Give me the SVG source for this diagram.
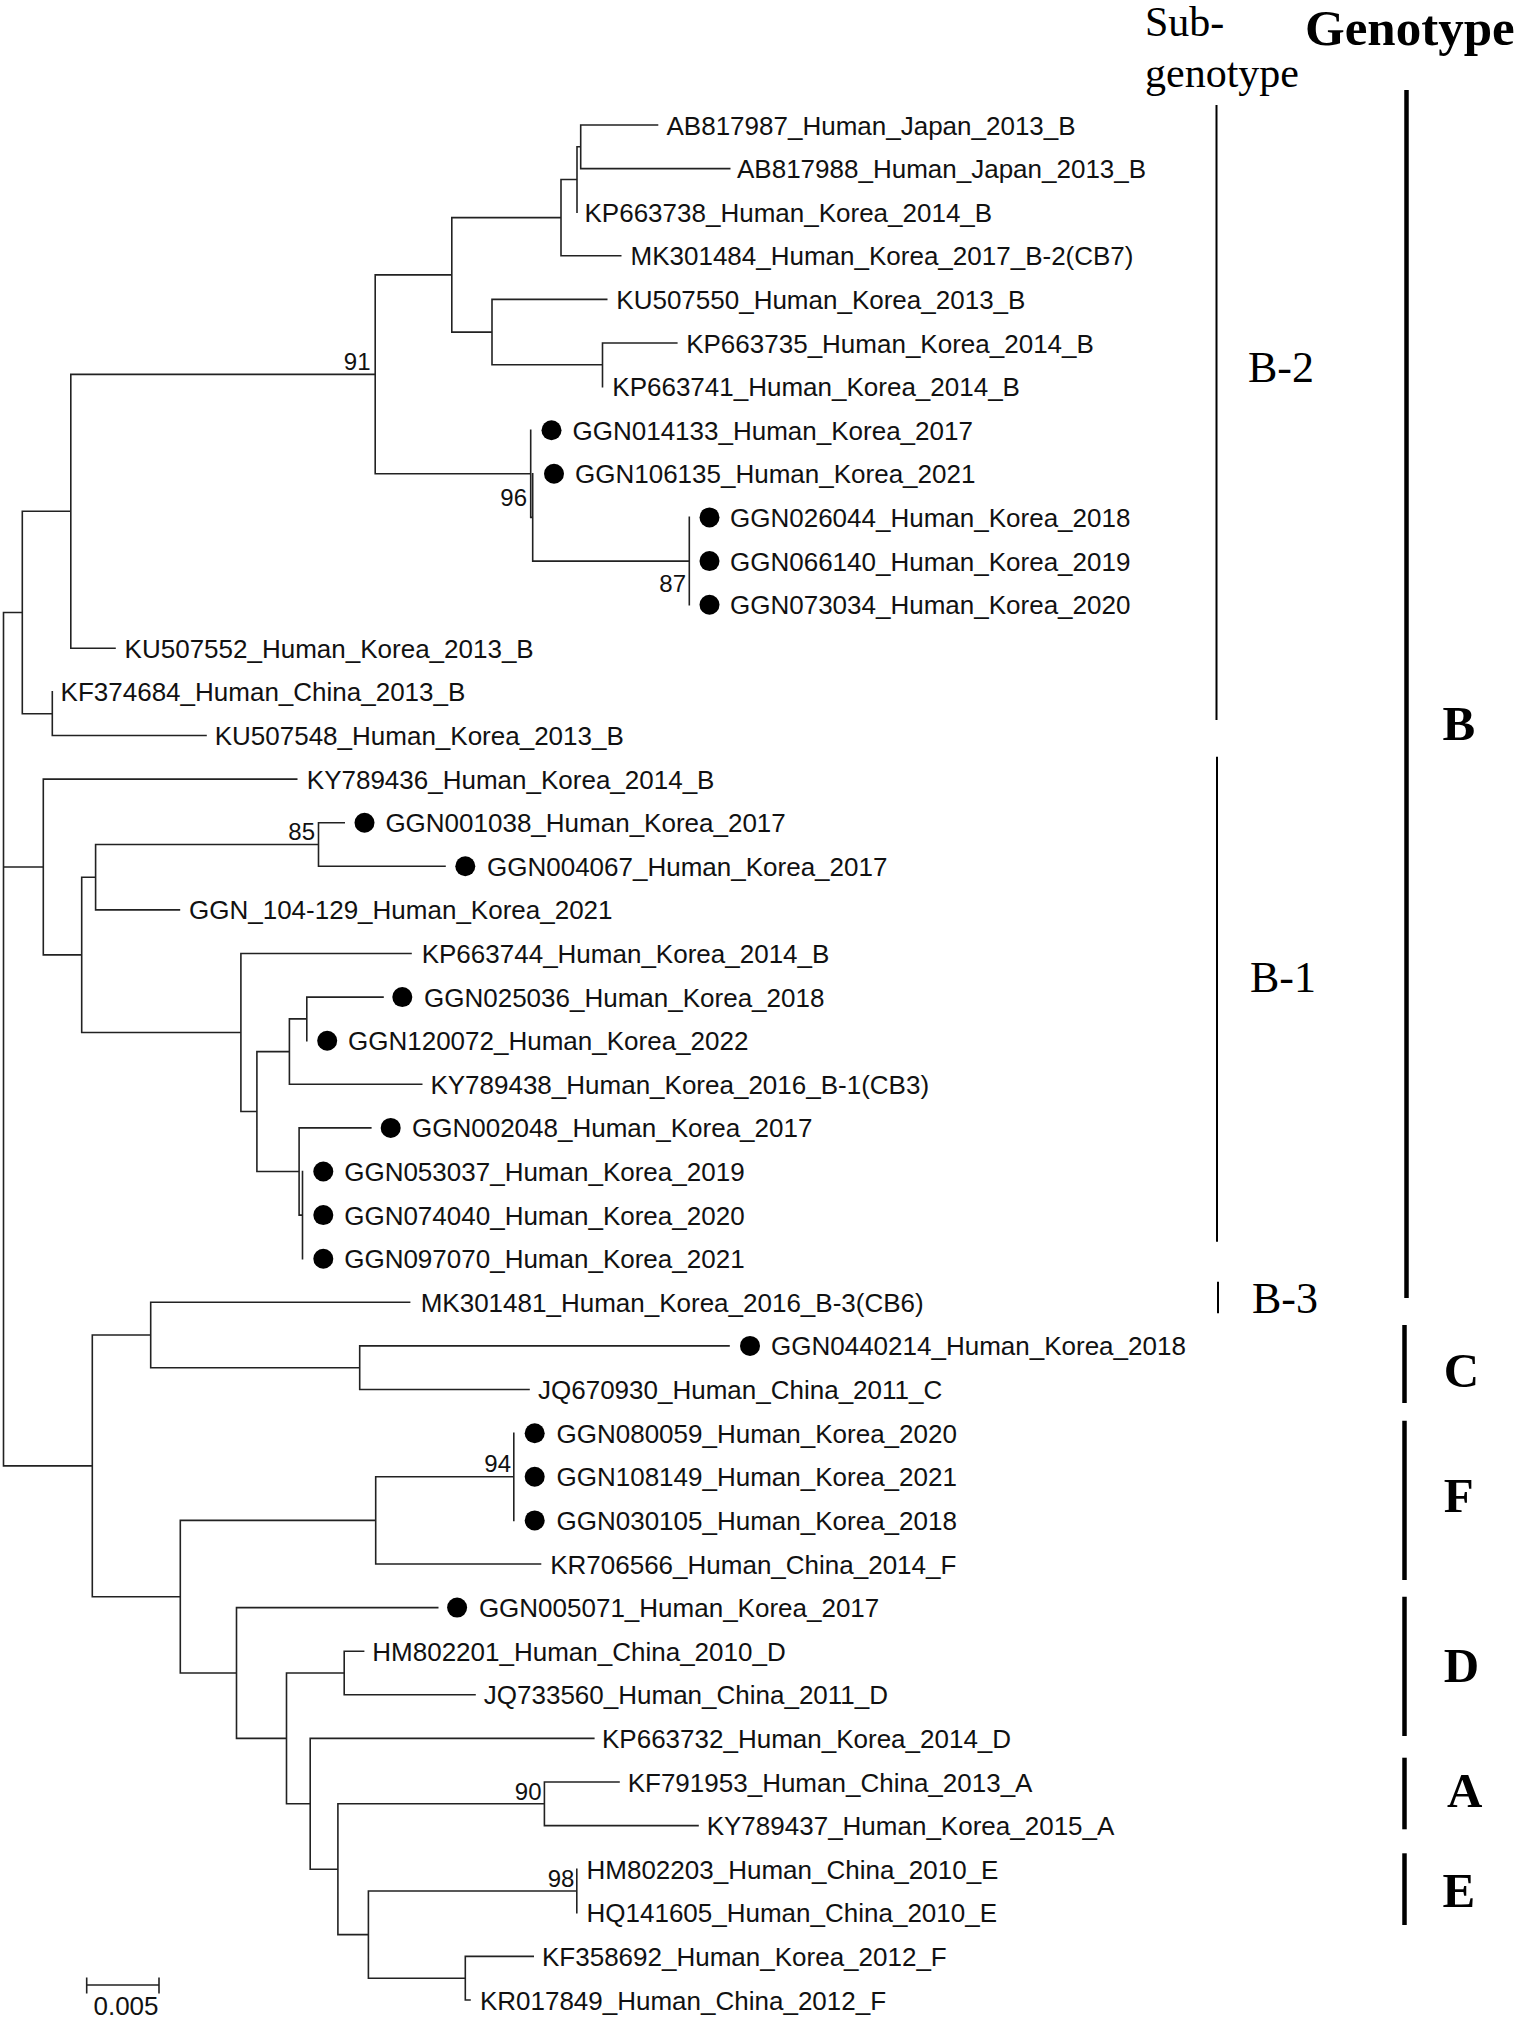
<svg xmlns="http://www.w3.org/2000/svg" width="1524" height="2018" viewBox="0 0 1524 2018">
<style>
.t{fill:none;stroke:#222;stroke-width:1.6;stroke-linecap:square}
.lbl{font-family:"Liberation Sans",Arial,sans-serif;font-size:26px;fill:#111}
.bs{font-family:"Liberation Sans",Arial,sans-serif;font-size:24px;fill:#111;text-anchor:end}
.dot{fill:#000}
.sub{fill:none;stroke:#000;stroke-width:2}
.gen{fill:none;stroke:#000;stroke-width:4.5}
.serif{font-family:"Liberation Serif","Times New Roman",serif;fill:#000}
.gl{font-family:"Liberation Serif","Times New Roman",serif;font-weight:bold;font-size:49px;fill:#000}
</style>
<rect width="1524" height="2018" fill="#fff"/>
<g id="connectors">
<path class="t" d="M3.5 612.5V1465.9M3.5 612.5H22.3M3.5 867H43.3M3.5 1465.9H92.3
M22.3 511.3V713.7M22.3 511.3H70.8M22.3 713.7H52.3
M70.8 374.4V648.3M70.8 374.4H375.2M70.8 648.3H115
M52.3 691.9V735.5M52.3 735.5H206
M375.2 274.9V473.8M375.2 274.9H451.8M375.2 473.8H530.7
M451.8 217.65V332.1M451.8 217.65H561M451.8 332.1H492
M561 179.5V255.8M561 179.5H577M561 255.8H620.7
M577 146.8V212.2M577 146.8H580.7
M580.7 125V168.6M580.7 125H657.5M580.7 168.6H729.7
M492 299.4V364.8M492 299.4H606.7M492 364.8H602.5
M602.5 343V386.6M602.5 343H676.8
M530.7 430.2V517.4M530.7 517.4H532.7
M532.7 473.8V561.1M532.7 561.1H689.3
M689.3 517.4V604.7
M43.3 779.1V954.9M43.3 779.1H296.7M43.3 954.9H81.7
M81.7 877.2V1032.5M81.7 877.2H95.6M81.7 1032.5H240.9
M95.6 844.5V909.9M95.6 844.5H318.5M95.6 909.9H179.4
M318.5 822.7V866.3M318.5 822.7H344.2M318.5 866.3H445
M240.9 953.5V1111.55M240.9 953.5H411M240.9 1111.55H256.9
M256.9 1051.6V1171.5M256.9 1051.6H289.4M256.9 1171.5H299.1
M289.4 1018.9V1084.3M289.4 1018.9H306.8M289.4 1084.3H421.7
M306.8 997.1V1040.7M306.8 997.1H383
M299.1 1127.9V1215.1M299.1 1127.9H370.8M299.1 1215.1H302.5
M302.5 1171.5V1258.7
M92.3 1335V1596.7M92.3 1335H150.7M92.3 1596.7H180.3
M150.7 1302.3V1367.7M150.7 1302.3H409.6M150.7 1367.7H359.7
M359.7 1345.9V1389.5M359.7 1345.9H729M359.7 1389.5H529
M180.3 1520.4V1673M180.3 1520.4H375.7M180.3 1673H236.5
M375.7 1476.8V1564M375.7 1476.8H513.8M375.7 1564H540.5
M513.8 1433.2V1520.4
M236.5 1607.6V1738.4M236.5 1607.6H437.7M236.5 1738.4H286.5
M286.5 1673V1803.8M286.5 1673H344.2M286.5 1803.8H310.2
M344.2 1651.2V1694.8M344.2 1651.2H363.6M344.2 1694.8H475
M310.2 1738.4V1869.2M310.2 1738.4H593.8M310.2 1869.2H337.9
M337.9 1803.8V1934.6M337.9 1803.8H544.4M337.9 1934.6H368.4
M544.4 1782V1825.6M544.4 1782H619M544.4 1825.6H698
M368.4 1891V1978.2M368.4 1891H576.8M368.4 1978.2H465.3
M576.8 1869.2V1912.8
M465.3 1956.4V2000M465.3 1956.4H533.2M465.3 2000H470"/>
</g>
<g id="bootstrap">
<text class="bs" x="370.5" y="369.5">91</text>
<text class="bs" x="527" y="506">96</text>
<text class="bs" x="686" y="592">87</text>
<text class="bs" x="315" y="840">85</text>
<text class="bs" x="511" y="1472">94</text>
<text class="bs" x="541.5" y="1800">90</text>
<text class="bs" x="574.4" y="1887">98</text>
</g>
<g id="leaves">
<g id="AB817987"><text class="lbl" x="666.5" y="134.5">AB817987_Human_Japan_2013_B</text></g>
<g id="AB817988"><text class="lbl" x="737" y="178.1">AB817988_Human_Japan_2013_B</text></g>
<g id="KP663738"><text class="lbl" x="584.5" y="221.7">KP663738_Human_Korea_2014_B</text></g>
<g id="MK301484"><text class="lbl" x="630.5" y="265.3">MK301484_Human_Korea_2017_B-2(CB7)</text></g>
<g id="KU507550"><text class="lbl" x="616.3" y="308.9">KU507550_Human_Korea_2013_B</text></g>
<g id="KP663735"><text class="lbl" x="686.2" y="352.5">KP663735_Human_Korea_2014_B</text></g>
<g id="KP663741"><text class="lbl" x="612.3" y="396.1">KP663741_Human_Korea_2014_B</text></g>
<g id="GGN014133"><circle class="dot" cx="551.5" cy="430.2" r="10"/><text class="lbl" x="572.5" y="439.7">GGN014133_Human_Korea_2017</text></g>
<g id="GGN106135"><circle class="dot" cx="554" cy="473.8" r="10"/><text class="lbl" x="575" y="483.3">GGN106135_Human_Korea_2021</text></g>
<g id="GGN026044"><circle class="dot" cx="709.5" cy="517.4" r="10"/><text class="lbl" x="730" y="526.9">GGN026044_Human_Korea_2018</text></g>
<g id="GGN066140"><circle class="dot" cx="709.5" cy="561.1" r="10"/><text class="lbl" x="730" y="570.6">GGN066140_Human_Korea_2019</text></g>
<g id="GGN073034"><circle class="dot" cx="709.5" cy="604.7" r="10"/><text class="lbl" x="730" y="614.2">GGN073034_Human_Korea_2020</text></g>
<g id="KU507552"><text class="lbl" x="124.6" y="657.8">KU507552_Human_Korea_2013_B</text></g>
<g id="KF374684"><text class="lbl" x="60.6" y="701.4">KF374684_Human_China_2013_B</text></g>
<g id="KU507548"><text class="lbl" x="214.7" y="745">KU507548_Human_Korea_2013_B</text></g>
<g id="KY789436"><text class="lbl" x="306.8" y="788.6">KY789436_Human_Korea_2014_B</text></g>
<g id="GGN001038"><circle class="dot" cx="364.5" cy="822.7" r="10"/><text class="lbl" x="385.4" y="832.2">GGN001038_Human_Korea_2017</text></g>
<g id="GGN004067"><circle class="dot" cx="465.3" cy="866.3" r="10"/><text class="lbl" x="487" y="875.8">GGN004067_Human_Korea_2017</text></g>
<g id="GGN_104-129"><text class="lbl" x="189" y="919.4">GGN_104-129_Human_Korea_2021</text></g>
<g id="KP663744"><text class="lbl" x="421.7" y="963">KP663744_Human_Korea_2014_B</text></g>
<g id="GGN025036"><circle class="dot" cx="402.3" cy="997.1" r="10"/><text class="lbl" x="424" y="1006.6">GGN025036_Human_Korea_2018</text></g>
<g id="GGN120072"><circle class="dot" cx="327.2" cy="1040.7" r="10"/><text class="lbl" x="348" y="1050.2">GGN120072_Human_Korea_2022</text></g>
<g id="KY789438"><text class="lbl" x="430.4" y="1093.8">KY789438_Human_Korea_2016_B-1(CB3)</text></g>
<g id="GGN002048"><circle class="dot" cx="390.7" cy="1127.9" r="10"/><text class="lbl" x="412" y="1137.4">GGN002048_Human_Korea_2017</text></g>
<g id="GGN053037"><circle class="dot" cx="323.3" cy="1171.5" r="10"/><text class="lbl" x="344.2" y="1181">GGN053037_Human_Korea_2019</text></g>
<g id="GGN074040"><circle class="dot" cx="323.3" cy="1215.1" r="10"/><text class="lbl" x="344.2" y="1224.6">GGN074040_Human_Korea_2020</text></g>
<g id="GGN097070"><circle class="dot" cx="323.3" cy="1258.7" r="10"/><text class="lbl" x="344.2" y="1268.2">GGN097070_Human_Korea_2021</text></g>
<g id="MK301481"><text class="lbl" x="420.7" y="1311.8">MK301481_Human_Korea_2016_B-3(CB6)</text></g>
<g id="GGN0440214"><circle class="dot" cx="750" cy="1345.9" r="10"/><text class="lbl" x="771" y="1355.4">GGN0440214_Human_Korea_2018</text></g>
<g id="JQ670930"><text class="lbl" x="538" y="1399">JQ670930_Human_China_2011_C</text></g>
<g id="GGN080059"><circle class="dot" cx="534.7" cy="1433.2" r="10"/><text class="lbl" x="556.5" y="1442.7">GGN080059_Human_Korea_2020</text></g>
<g id="GGN108149"><circle class="dot" cx="534.7" cy="1476.8" r="10"/><text class="lbl" x="556.5" y="1486.3">GGN108149_Human_Korea_2021</text></g>
<g id="GGN030105"><circle class="dot" cx="534.7" cy="1520.4" r="10"/><text class="lbl" x="556.5" y="1529.9">GGN030105_Human_Korea_2018</text></g>
<g id="KR706566"><text class="lbl" x="550.2" y="1573.5">KR706566_Human_China_2014_F</text></g>
<g id="GGN005071"><circle class="dot" cx="457.1" cy="1607.6" r="10"/><text class="lbl" x="478.9" y="1617.1">GGN005071_Human_Korea_2017</text></g>
<g id="HM802201"><text class="lbl" x="372.3" y="1660.7">HM802201_Human_China_2010_D</text></g>
<g id="JQ733560"><text class="lbl" x="483.8" y="1704.3">JQ733560_Human_China_2011_D</text></g>
<g id="KP663732"><text class="lbl" x="602" y="1747.9">KP663732_Human_Korea_2014_D</text></g>
<g id="KF791953"><text class="lbl" x="627.7" y="1791.5">KF791953_Human_China_2013_A</text></g>
<g id="KY789437"><text class="lbl" x="706.7" y="1835.1">KY789437_Human_Korea_2015_A</text></g>
<g id="HM802203"><text class="lbl" x="586.5" y="1878.7">HM802203_Human_China_2010_E</text></g>
<g id="HQ141605"><text class="lbl" x="586.5" y="1922.3">HQ141605_Human_China_2010_E</text></g>
<g id="KF358692"><text class="lbl" x="542" y="1965.9">KF358692_Human_Korea_2012_F</text></g>
<g id="KR017849"><text class="lbl" x="479.9" y="2009.5">KR017849_Human_China_2012_F</text></g>
</g>
<g id="scale-bar">
<path class="t" d="M86.7 1985H159M86.7 1978.3V1992.7M159 1978.3V1992.7"/>
<text class="lbl" x="126" y="2015" text-anchor="middle" font-size="25">0.005</text>
</g>
<g id="headers">
<text class="serif" x="1145" y="36" font-size="42">Sub-</text>
<text class="serif" x="1145" y="86.5" font-size="42">genotype</text>
<text class="serif" x="1305" y="45" font-size="51" font-weight="bold">Genotype</text>
</g>
<g id="subgenotypes">
<g id="sub-B-2"><path class="sub" d="M1216.5 105V720"/><text class="serif" x="1248" y="382" font-size="44">B-2</text></g>
<g id="sub-B-1"><path class="sub" d="M1217 756.7V1241.7"/><text class="serif" x="1250" y="991.5" font-size="44">B-1</text></g>
<g id="sub-B-3"><path class="sub" d="M1218 1281.7V1313.3"/><text class="serif" x="1252" y="1313" font-size="44">B-3</text></g>
</g>
<g id="genotypes">
<g id="gen-B"><path class="gen" d="M1406.5 90V1298"/><text class="gl" x="1442.5" y="740">B</text></g>
<g id="gen-C"><path class="gen" d="M1404.5 1325V1403"/><text class="gl" x="1443.8" y="1387">C</text></g>
<g id="gen-F"><path class="gen" d="M1404.5 1420.7V1580"/><text class="gl" x="1443.8" y="1512">F</text></g>
<g id="gen-D"><path class="gen" d="M1404.5 1596.7V1736"/><text class="gl" x="1443.8" y="1682">D</text></g>
<g id="gen-A"><path class="gen" d="M1404.5 1757.7V1829.3"/><text class="gl" x="1447" y="1807">A</text></g>
<g id="gen-E"><path class="gen" d="M1404.5 1853.3V1925"/><text class="gl" x="1442.5" y="1907">E</text></g>
</g>
</svg>
